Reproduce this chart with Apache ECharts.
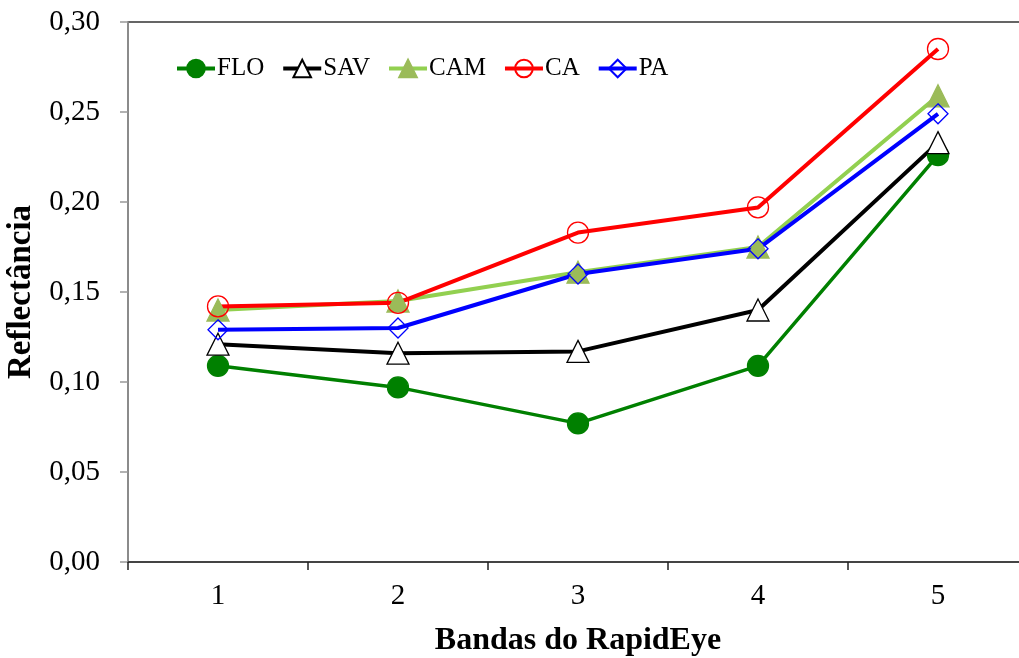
<!DOCTYPE html>
<html>
<head>
<meta charset="utf-8">
<script src="https://cdn.jsdelivr.net/npm/echarts@6/dist/echarts.min.js"></script>
<style>html,body{margin:0;padding:0;background:#fff}#c{width:1019px;height:658px}</style>
</head>
<body>
<div id="c"></div>
<script>
const categories = ['1', '2', '3', '4', '5'];
const FLO = [0.109, 0.097, 0.077, 0.109, 0.226];
const SAV = [0.121, 0.116, 0.117, 0.140, 0.233];
const CAM = [0.140, 0.145, 0.161, 0.175, 0.259];
const CA  = [0.142, 0.144, 0.183, 0.197, 0.285];
const PA  = [0.129, 0.130, 0.160, 0.174, 0.249];
const yTicks = { min: 0, max: 0.30, interval: 0.05 };

const font = 'Liberation Serif';
const chart = echarts.init(document.getElementById('c'));
function mk(name, data, lineColor, symbol, size, fill, stroke, lw) {
  return {
    name, type: 'line', data, symbol, symbolSize: size,
    lineStyle: { color: lineColor, width: lw },
    itemStyle: { color: fill, borderColor: stroke, borderWidth: 1.3 },
    emphasis: { disabled: true }, animation: false
  };
}
chart.setOption({
  animation: false,
  grid: { left: 128, top: 22, width: 900, height: 540, outerBoundsMode: 'none', containLabel: false,
          show: true, borderColor: '#333', borderWidth: 1.5, backgroundColor: 'transparent' },
  legend: {
    left: 170, top: 51, itemWidth: 38, itemHeight: 22, itemGap: 17,
    lineStyle: { width: 4 },
    textStyle: { fontFamily: font, fontSize: 25, color: '#000', padding: [0, 0, 0, -3] },
    data: ['FLO', 'SAV', 'CAM', 'CA', 'PA']
  },
  xAxis: {
    type: 'category', data: categories, boundaryGap: true,
    name: 'Bandas do RapidEye', nameLocation: 'middle', nameGap: 63,
    nameTextStyle: { fontFamily: font, fontSize: 32, fontWeight: 'bold', color: '#000' },
    axisLine: { lineStyle: { color: '#444', width: 2 } },
    axisTick: { show: true, alignWithLabel: false, length: 8, inside: false, lineStyle: { color: '#222', width: 1.5 } },
    axisLabel: { fontFamily: font, fontSize: 29, color: '#000', margin: 20 },
    splitLine: { show: false }
  },
  yAxis: {
    type: 'value', min: yTicks.min, max: yTicks.max, interval: yTicks.interval,
    name: 'Reflectância', nameLocation: 'middle', nameGap: 90, nameRotate: 90,
    nameTextStyle: { fontFamily: font, fontSize: 33, fontWeight: 'bold', color: '#000' },
    axisLine: { show: true, lineStyle: { color: '#999', width: 1.5 } },
    axisTick: { show: true, length: 8, lineStyle: { color: '#999', width: 1.5 } },
    axisLabel: { fontFamily: font, fontSize: 29, color: '#000', margin: 28,
      formatter: v => v.toFixed(2).replace('.', ',') },
    splitLine: { show: false }
  },
  series: [
    mk('FLO', FLO, '#008000', 'circle', 21, '#008000', '#008000', 3.5),
    mk('SAV', SAV, '#000000', 'triangle', 22, '#ffffff', '#000000', 4),
    mk('CAM', CAM, '#92D050', 'triangle', 22, '#9BBB59', '#9BBB59', 4),
    mk('CA', CA, '#FF0000', 'circle', 21, 'rgba(255,255,255,0)', '#FF0000', 4),
    mk('PA', PA, '#0000FF', 'diamond', 20, 'rgba(255,255,255,0)', '#0000FF', 4)
  ]
});
</script>
</body>
</html>
